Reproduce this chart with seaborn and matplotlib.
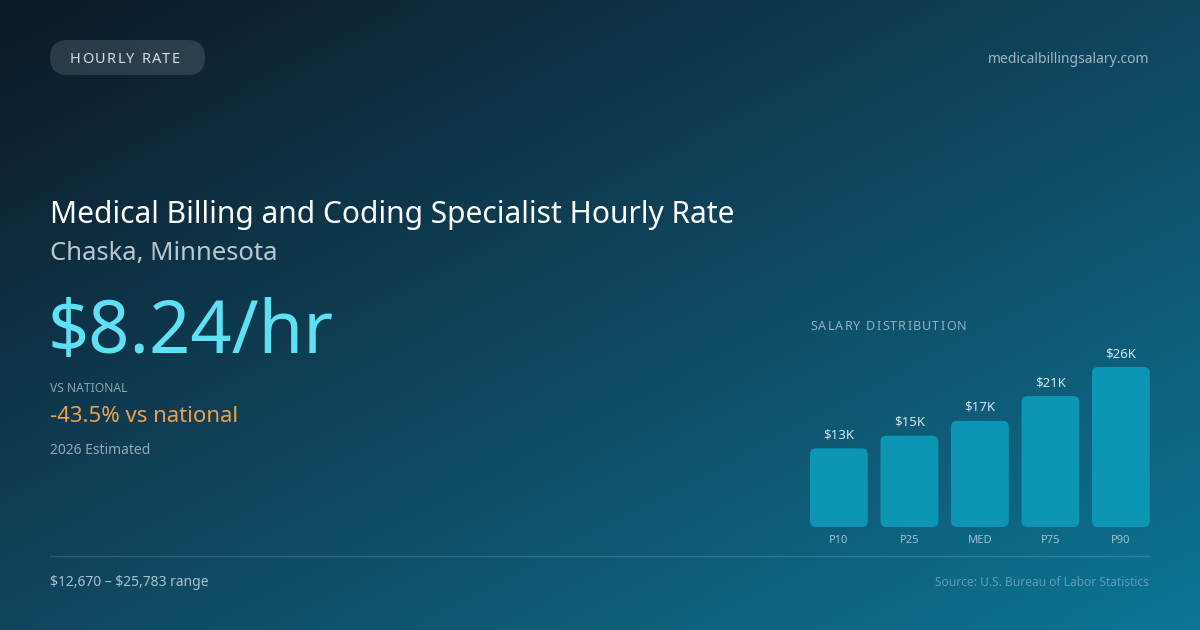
import numpy as np
import pandas as pd
import matplotlib
matplotlib.use("Agg")
import matplotlib.pyplot as plt
from matplotlib.patches import FancyBboxPatch
from matplotlib.colors import LinearSegmentedColormap
import seaborn as sns

# ---- data ----
categories = ["P10", "P25", "MED", "P75", "P90"]
salaries = [12670, 14700, 17100, 21100, 25783]
value_labels = ["$13K", "$15K", "$17K", "$21K", "$26K"]

title = "Medical Billing and Coding Specialist Hourly Rate"
location = "Chaska, Minnesota"
hourly = "$8.24/hr"
vs_national = "-43.5% vs national"
range_text = "$12,670 \u2013 $25,783 range"

plt.rcParams["font.family"] = ["Noto Sans", "DejaVu Sans"]

W, H = 1200, 630
fig = plt.figure(figsize=(W / 100, H / 100), dpi=100)

# ---- background canvas in pixel coords (y down) ----
bg = fig.add_axes([0, 0, 1, 1])
bg.set_xlim(0, W)
bg.set_ylim(H, 0)
bg.axis("off")

gx, gy = np.meshgrid(np.linspace(0, 1, 240), np.linspace(0, 1, 126))
grad = 0.5 * gx + 0.5 * gy
cmap = LinearSegmentedColormap.from_list(
    "bg", [(0, "#0c1926"), (0.5, "#10465e"), (1, "#0c7595")]
)
bg.imshow(grad, cmap=cmap, extent=[0, W, H, 0], aspect="auto", zorder=0,
          interpolation="bilinear")

renderer = fig.canvas.get_renderer()


def spaced_text(x, y, s, size, color, spacing):
    # letter-spaced text, drawn char by char
    fp = matplotlib.font_manager.FontProperties(family=["Noto Sans"], size=size)
    for i, ch in enumerate(s):
        w, _, _ = renderer.get_text_width_height_descent(s[:i], fp, ismath=False) if i else (0, 0, 0)
        bg.text(x + w + spacing * i, y, ch, fontproperties=fp, color=color,
                va="baseline", ha="left", zorder=3)


def txt(x, y, s, **kw):
    bg.text(x, y, s, va="baseline", zorder=3, parse_math=False, **kw)


# pill
pill = FancyBboxPatch((50, 40), 155, 35, boxstyle="round,pad=0,rounding_size=17.5",
                      fc="#ffffff", alpha=0.13, ec="none", zorder=2)
bg.add_patch(pill)
spaced_text(70, 63, "HOURLY RATE", 10.5, "#d3dde3", 1.4)

txt(1149, 63, "medicalbillingsalary.com", ha="right", fontsize=10, color="#9fb6c2")

txt(50, 223, title, fontsize=21.6, color="white")
txt(50, 260, location, fontsize=18.5, color="#b9c8d0")
txt(48, 353, hourly, fontsize=52, color="#5ee0f5")
txt(50, 392, "VS NATIONAL", fontsize=8.7, color="#8aa6b4")
txt(50, 422, vs_national, fontsize=16, color="#f0a04b")
txt(50, 454, "2026 Estimated", fontsize=10, color="#8fa9b6")

spaced_text(810, 330, "SALARY DISTRIBUTION", 9, "#8fb3c2", 1.2)

# divider + footer
bg.plot([50, 1150], [556, 556], color="#ffffff", alpha=0.15, lw=1, zorder=2)
txt(50, 586, range_text, fontsize=10, color="#a9c2ce")
txt(1149, 586, "Source: U.S. Bureau of Labor Statistics", fontsize=8.6,
    color="#5d9db3", ha="right")

# ---- bar chart ----
pitch = 70.5
ax_left = 810 - 0.09 * pitch
ax_w = 5 * pitch
ymax = 30000
px_per_dollar = 160 / 25783
ax_h = ymax * px_per_dollar
ax = fig.add_axes([ax_left / W, (H - 527) / H, ax_w / W, ax_h / H])
ax.patch.set_alpha(0)

df = pd.DataFrame({"pct": categories, "salary": salaries})
sns.barplot(data=df, x="pct", y="salary", color="#0d96b4", saturation=1,
            width=0.82, ax=ax)
ax.set_xlim(-0.5, 4.5)
ax.set_ylim(0, ymax)

# round the bar corners
aspect = (ax_w / 5) / (ax_h / ymax)
for p in ax.patches:
    x0, y0, w, h = p.get_x(), p.get_y(), p.get_width(), p.get_height()
    p.set_visible(False)
    ax.add_patch(FancyBboxPatch((x0, y0), w, h,
                                boxstyle="round,pad=0,rounding_size=0.085",
                                mutation_aspect=aspect, fc="#0d96b4", ec="none"))

ax.bar_label(ax.containers[0], labels=value_labels, padding=5,
             fontsize=9.5, color="#d2e6ee")

sns.despine(ax=ax, left=True, bottom=True)
ax.set_xlabel("")
ax.set_ylabel("")
ax.set_yticks([])
ax.tick_params(axis="x", length=0, pad=6, labelsize=8, labelcolor="#9cc3d1")

fig.savefig("out.png", dpi=100)
